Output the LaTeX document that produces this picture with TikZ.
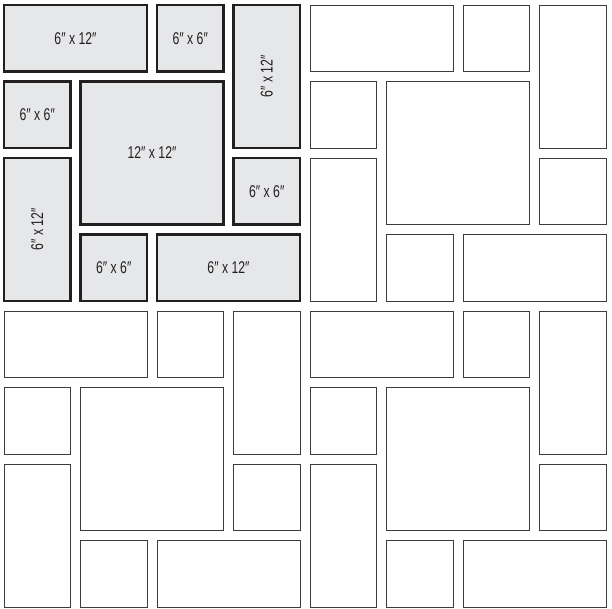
\documentclass[tikz,border=0pt]{standalone}
\usepackage{fontspec}
\newfontfamily\tilefont[FakeStretch=0.72]{Liberation Sans}
\usetikzlibrary{positioning}
\definecolor{tilegray}{HTML}{E6E7E9}
\definecolor{tileline}{HTML}{231F20}
\definecolor{plainline}{HTML}{3C3C3C}
\newcommand{\cellsize}{76.5}
\newcommand{\gapsize}{10}
\tikzset{
  tile/.style={rectangle, inner sep=0pt, outer sep=0pt, anchor=north west},
  shaded tile/.style={tile, draw=tileline, fill=tilegray, line width=2.4pt},
  plain tile/.style={tile, draw=plainline, fill=white, line width=0.9pt},
  tile label/.style={font=\tilefont\fontsize{17}{19}\selectfont, text=tileline, inner sep=0pt},
  tile block/.pic={
    \foreach \i/\j/\w/\h/\n in {0/0/2/1/a, 2/0/1/1/b, 3/0/1/2/c, 0/1/1/1/d,
        1/1/2/2/e, 0/2/1/2/f, 3/2/1/1/g, 1/3/1/1/h, 2/3/2/1/i}
      \node[#1, minimum width={\w*\cellsize pt-\gapsize pt},
        minimum height={\h*\cellsize pt-\gapsize pt}]
        (-\n) at (\i*\cellsize, -\j*\cellsize) {};
  }
}
\begin{document}
\begin{tikzpicture}[x=1pt, y=1pt]
	\useasboundingbox (0,0) rectangle (612,609);

		% four blocks of nine tiles
		\path (4,604) pic (A) {tile block=shaded tile};
		\path (4+4*\cellsize,604) pic (B) {tile block=plain tile};
		\path (4,604-4*\cellsize) pic (C) {tile block=plain tile};
		\path (4+4*\cellsize,604-4*\cellsize) pic (D) {tile block=plain tile};

		% sizes on the first block
		\foreach \n/\t/\r in {a/{6″ x 12″}/0, b/{6″ x 6″}/0, c/{6″ x 12″}/90,
				d/{6″ x 6″}/0, e/{12″ x 12″}/0, f/{6″ x 12″}/90,
				g/{6″ x 6″}/0, h/{6″ x 6″}/0, i/{6″ x 12″}/0}
			\node[tile label, rotate=\r] (size-\n) at (A-\n) {\t};
	\end{tikzpicture}
\end{document}
